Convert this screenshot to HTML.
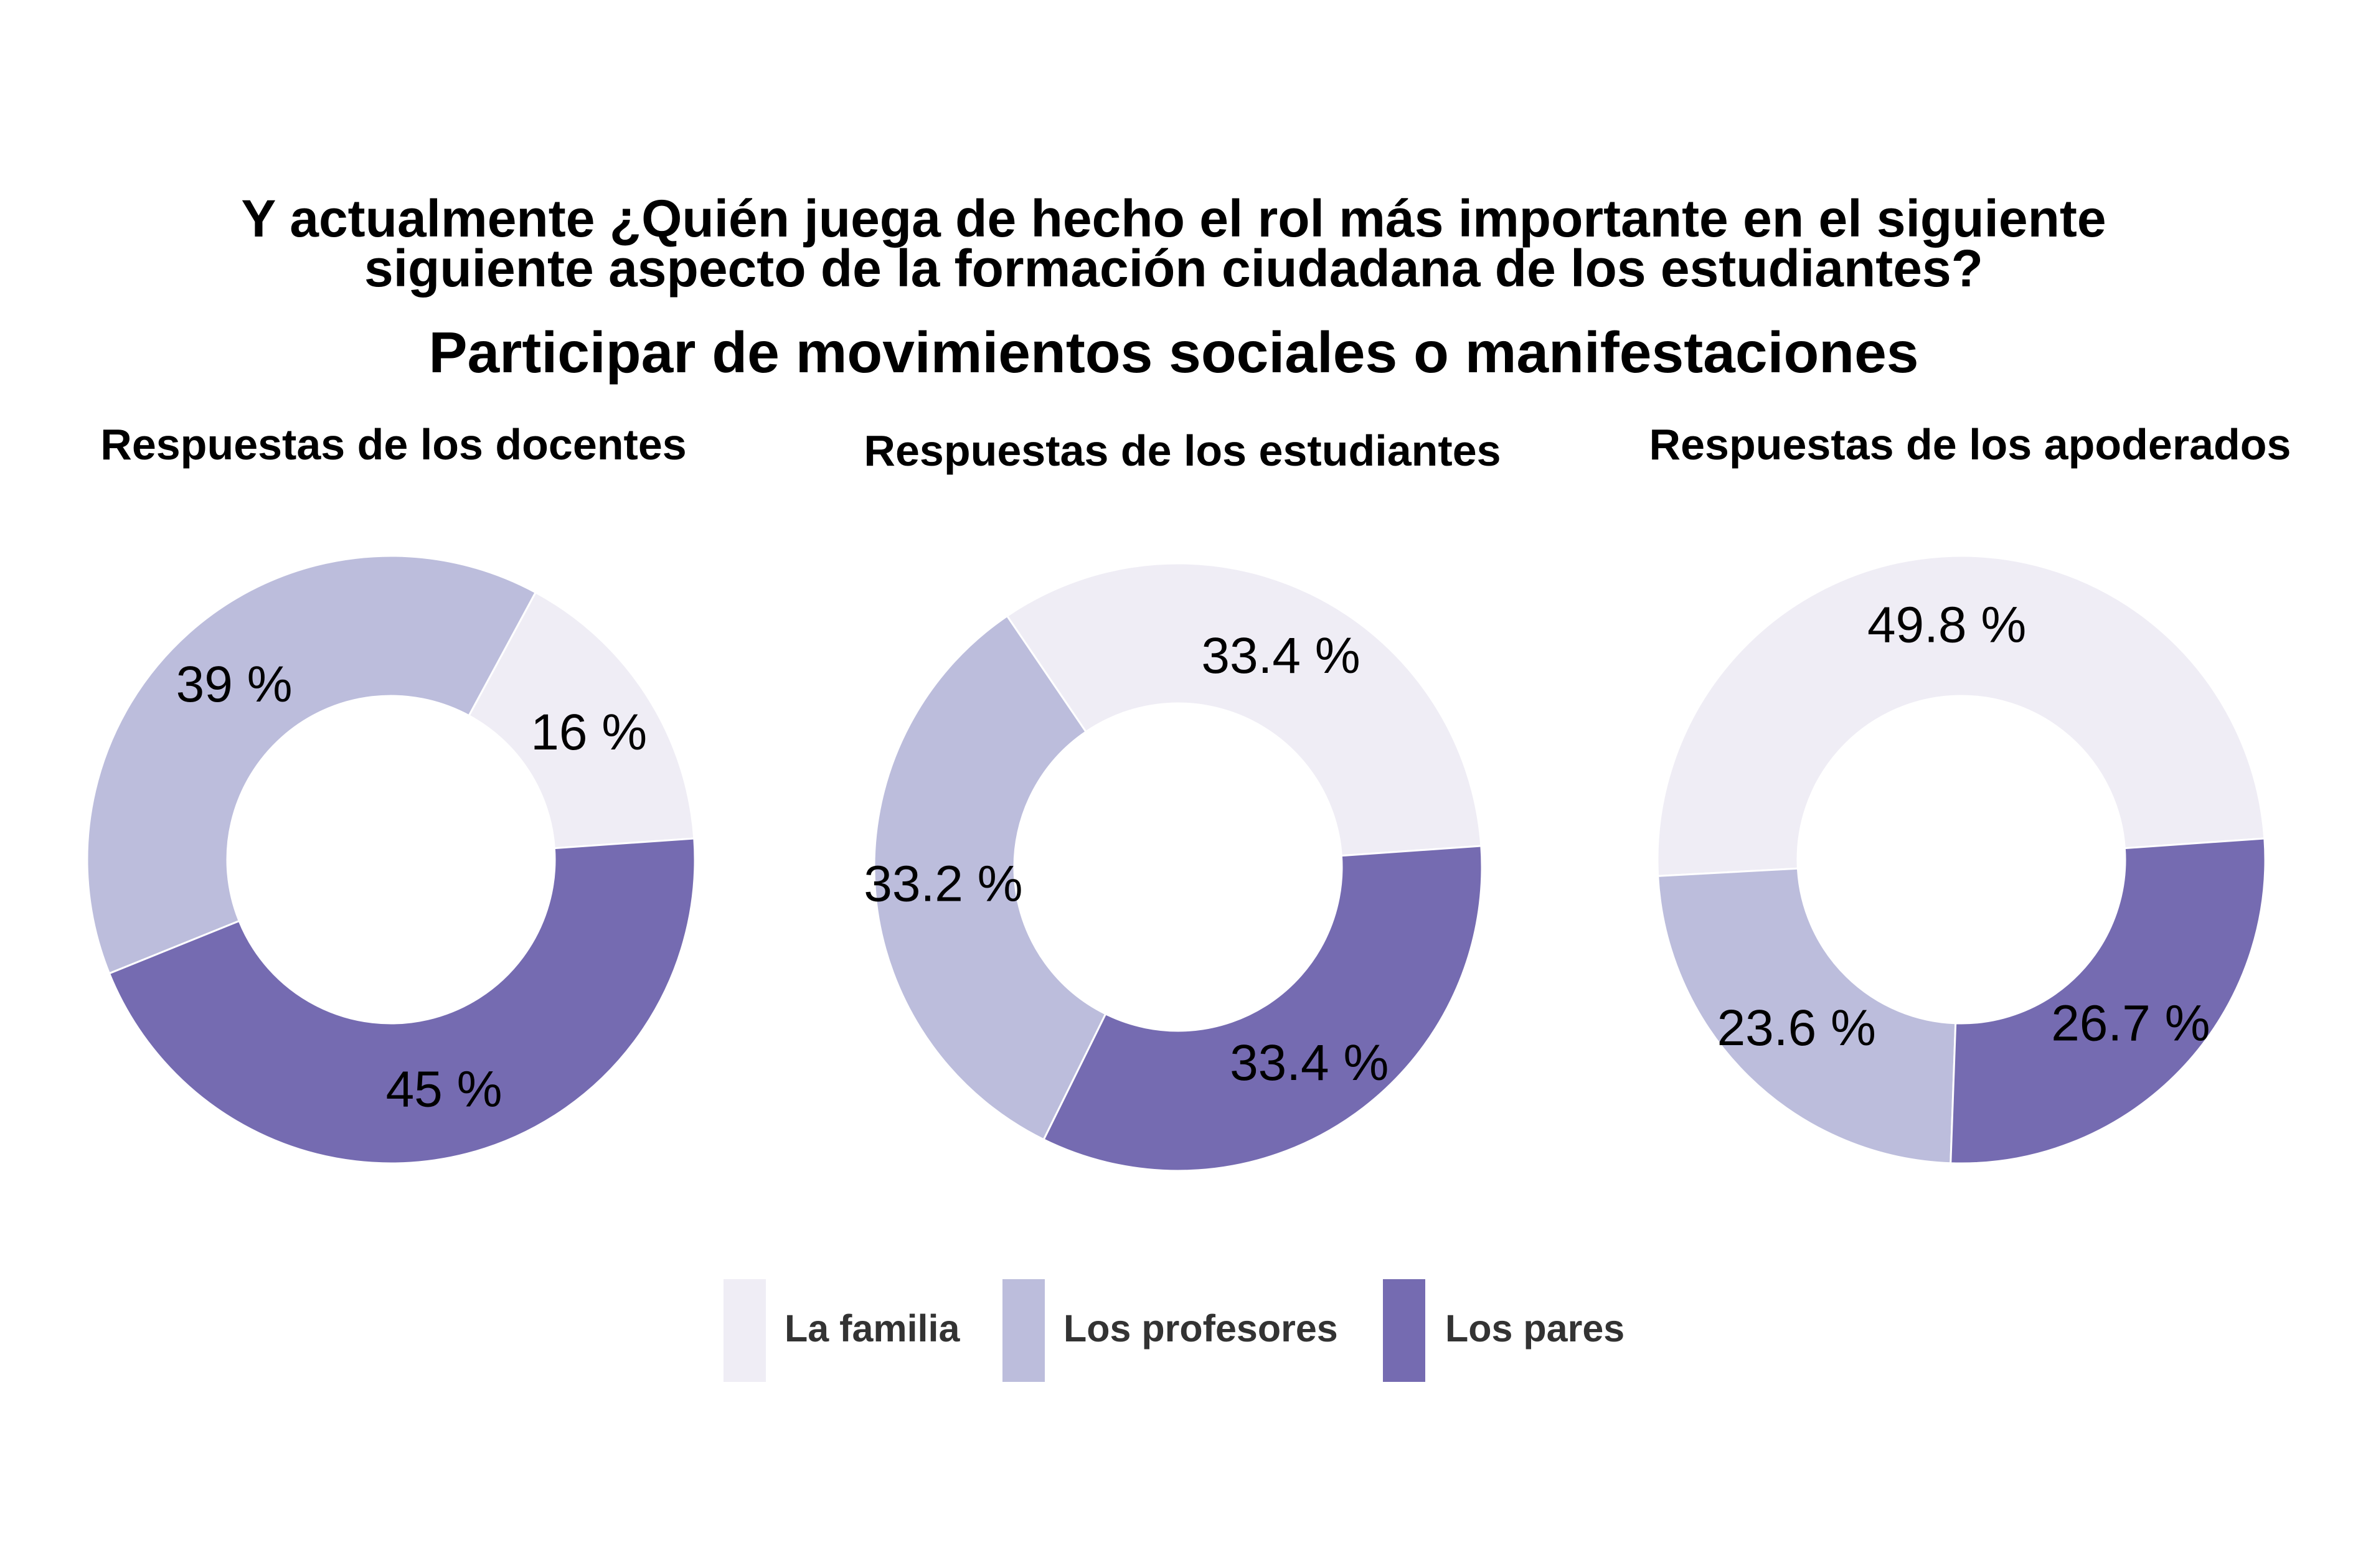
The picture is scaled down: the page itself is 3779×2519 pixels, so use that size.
<!DOCTYPE html>
<html>
<head>
<meta charset="utf-8">
<style>
html,body{margin:0;padding:0;background:#fff;}
svg{display:block;font-family:"Liberation Sans",Arial,sans-serif;}
</style>
</head>
<body>
<svg id="chart" width="3779" height="2519" viewBox="0 0 3779 2519" xmlns="http://www.w3.org/2000/svg">
  <rect width="3779" height="2519" fill="#ffffff"/>
  <text x="1885" y="380" text-anchor="middle" font-size="84" font-weight="bold" fill="#000">Y actualmente ¿Quién juega de hecho el rol más importante en el siguiente</text>
  <text x="1885" y="460" text-anchor="middle" font-size="84" font-weight="bold" fill="#000">siguiente aspecto de la formación ciudadana de los estudiantes?</text>
  <text x="1885" y="598" text-anchor="middle" font-size="93" font-weight="bold" fill="#000">Participar de movimientos sociales o manifestaciones</text>
  <g id="donuts"></g>
  <g id="legend">
    <rect x="1162" y="2055" width="68" height="165" fill="#EFEDF5"/>
    <text x="1260" y="2155" font-size="61" font-weight="bold" fill="#333">La familia</text>
    <rect x="1610" y="2055" width="68" height="165" fill="#BCBDDC"/>
    <text x="1708" y="2155" font-size="61" font-weight="bold" fill="#333">Los profesores</text>
    <rect x="2221" y="2055" width="68" height="165" fill="#756BB1"/>
    <text x="2321" y="2155" font-size="61" font-weight="bold" fill="#333">Los pares</text>
  </g>
</svg>
<script>
const panels = ["Respuestas de los docentes", "Respuestas de los estudiantes", "Respuestas de los apoderados"];
const familia = [16, 33.4, 49.8];
const profesores = [39, 33.2, 23.6];
const pares = [45, 33.4, 26.7];
const labelFamilia = ["16 %", "33.4 %", "49.8 %"];
const labelProfesores = ["39 %", "33.2 %", "23.6 %"];
const labelPares = ["45 %", "33.4 %", "26.7 %"];

const NS = "http://www.w3.org/2000/svg";
const g = document.getElementById("donuts");
const centers = [[628,1381],[1892,1393],[3150,1381]];
const subX = [632, 1899, 3164];
const subY = [738, 748, 738];
const R = 488, r = 263, LR = 378, anchor = 86;
const colors = ["#EFEDF5", "#BCBDDC", "#756BB1"];
const slug = ["familia","profesores","pares"];

function pt(cx, cy, rad, deg){
  const a = deg*Math.PI/180;
  return [cx + rad*Math.sin(a), cy - rad*Math.cos(a)];
}
function arcPath(cx, cy, a0, a1){
  const large = (a1 - a0) > 180 ? 1 : 0;
  const p0 = pt(cx,cy,R,a0), p1 = pt(cx,cy,R,a1), q1 = pt(cx,cy,r,a1), q0 = pt(cx,cy,r,a0);
  return `M${p0[0]},${p0[1]} A${R},${R} 0 ${large} 1 ${p1[0]},${p1[1]} L${q1[0]},${q1[1]} A${r},${r} 0 ${large} 0 ${q0[0]},${q0[1]} Z`;
}

panels.forEach((title, i) => {
  const [cx, cy] = centers[i];
  const total = familia[i] + profesores[i] + pares[i];
  const deg = v => v / total * 360;
  const t = document.createElementNS(NS, "text");
  t.setAttribute("x", subX[i]); t.setAttribute("y", subY[i]);
  t.setAttribute("text-anchor", "middle"); t.setAttribute("font-size", "70"); t.setAttribute("font-weight", "bold");
  t.textContent = title;
  
  
  g.appendChild(t);
  const pEnd = anchor + deg(pares[i]);
  const segs = [
    [anchor - deg(familia[i]), anchor, labelFamilia[i]],
    [pEnd, pEnd + deg(profesores[i]), labelProfesores[i]],
    [anchor, pEnd, labelPares[i]]
  ];
  segs.forEach((s, k) => {
    const p = document.createElementNS(NS, "path");
    p.setAttribute("d", arcPath(cx, cy, s[0], s[1]));
    p.setAttribute("fill", colors[k]);
    p.setAttribute("stroke", "#ffffff");
    p.setAttribute("stroke-width", "3");
    
    
    g.appendChild(p);
  });
  segs.forEach((s, k) => {
    const m = (s[0] + s[1]) / 2;
    const lp = pt(cx, cy, LR, m);
    const l = document.createElementNS(NS, "text");
    l.setAttribute("x", lp[0]); l.setAttribute("y", lp[1] + 28);
    l.setAttribute("text-anchor", "middle"); l.setAttribute("font-size", "82");
    l.textContent = s[2];
    
    
    g.appendChild(l);
  });
});
</script>
</body>
</html>
